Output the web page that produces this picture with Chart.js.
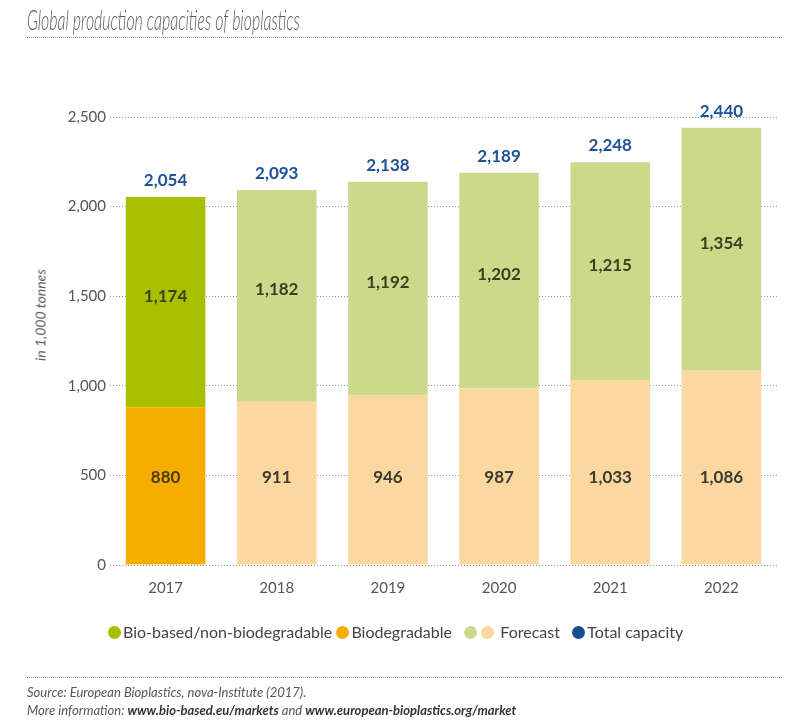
<!DOCTYPE html>
<html lang="en">
<head>
    <meta charset="UTF-8">
    <title>Global production capacities of bioplastics</title>
    <script src="https://cdn.jsdelivr.net/npm/chart.js@4.4.0/dist/chart.umd.min.js"></script>
    <style>
        body {
            margin: 0;
            background: #fff;
            font-family: "Lato", "Open Sans", sans-serif;
            color: #555;
        }
        .page {
            position: relative;
            width: 800px;
            height: 723px;
            overflow: hidden;
        }
        .chart-box {
            position: absolute;
            left: 0;
            top: 0;
            width: 800px;
            height: 723px;
        }
        .title {
            position: absolute;
            left: 27px;
            top: 2px;
            font-size: 28px;
            font-style: italic;
            font-weight: 300;
            color: #5a5a5a;
            white-space: nowrap;
            transform: scaleX(0.57);
            transform-origin: 0 0;
        }
        .rule {
            position: absolute;
            left: 27px;
            width: 755px;
            border-top: 1.5px dotted #888;
        }
        .ytitle {
            position: absolute;
            left: 32px;
            top: 315px;
            font-size: 14px;
            font-style: italic;
            color: #555;
            white-space: nowrap;
            transform: translate(-50%, -50%) rotate(-90deg);
            transform-origin: 50% 50%;
            margin-left: 8px;
        }
        .legend {
            position: absolute;
            left: 108px;
            top: 622px;
            font-size: 16px;
            color: #444;
            white-space: nowrap;
        }
        .legend span.dot {
            display: inline-block;
            width: 13px;
            height: 13px;
            border-radius: 50%;
            vertical-align: -1px;
            margin-right: 2px;
        }
        .source {
            position: absolute;
            left: 27px;
            top: 683px;
            font-size: 13px;
            font-style: italic;
            color: #555;
            line-height: 18px;
        }
        .source b {
            color: #333;
        }
    </style>
</head>
<body>
<div class="page">
    <div class="chart-box">
        <canvas id="myChart"></canvas>
    </div>
    <div class="title">Global production capacities of bioplastics</div>
    <div class="rule" style="top: 37px;"></div>
    <div class="ytitle">in 1,000 tonnes</div>
    <div class="legend">
        <span class="dot" style="background:#a8c000"></span>Bio-based/non-biodegradable
        <span class="dot" style="background:#f7ad00"></span>Biodegradable&nbsp;&nbsp;
        <span class="dot" style="background:#cdd98a"></span><span class="dot" style="background:#fbd89f; margin-left:2px"></span> Forecast&nbsp;&nbsp;
        <span class="dot" style="background:#1a4d8f"></span>Total capacity
    </div>
    <div class="rule" style="top: 677px;"></div>
    <div class="source">
        Source: European Bioplastics, nova-Institute (2017).<br>
        More information: <b>www.bio-based.eu/markets</b> and <b>www.european-bioplastics.org/market</b>
    </div>
</div>

<script>
    var years = ["2017", "2018", "2019", "2020", "2021", "2022"];
    var biodegradable = [880, 911, 946, 987, 1033, 1086];
    var bioBased = [1174, 1182, 1192, 1202, 1215, 1354];
    var totalCapacity = [2054, 2093, 2138, 2189, 2248, 2440];
    var yTicks = [0, 500, 1000, 1500, 2000, 2500];

    function fmt(v) {
        return Number(v).toLocaleString("en-US");
    }

    // value labels inside the bars and totals above them
    var valueLabels = {
        id: "valueLabels",
        afterDatasetsDraw: function(chart) {
            var ctx = chart.ctx;
            var yScale = chart.scales.y;
            ctx.save();
            ctx.textAlign = "center";
            ctx.textBaseline = "middle";
            ctx.font = "bold 17px Lato, 'Open Sans', sans-serif";

            var low = chart.getDatasetMeta(0);
            low.data.forEach(function(bar, i) {
                ctx.fillStyle = i === 0 ? "#4d3a0a" : "#3a3a32";
                ctx.fillText(fmt(biodegradable[i]), bar.x, yScale.getPixelForValue(490));
            });

            var high = chart.getDatasetMeta(1);
            high.data.forEach(function(bar, i) {
                ctx.fillStyle = "#3a4020";
                ctx.fillText(fmt(bioBased[i]), bar.x, (bar.y + bar.base) / 2 - 6);
            });

            ctx.fillStyle = "#1d5296";
            ctx.textBaseline = "bottom";
            high.data.forEach(function(bar, i) {
                ctx.fillText(fmt(totalCapacity[i]), bar.x, yScale.getPixelForValue(totalCapacity[i]) - 8);
            });
            ctx.restore();
        }
    };

    var ctx = document.getElementById("myChart").getContext("2d");
    var myChart = new Chart(ctx, {
        type: "bar",
        data: {
            labels: years,
            datasets: [
                {
                    label: "Biodegradable",
                    data: biodegradable,
                    backgroundColor: ["#f7ad00", "#fbd89f", "#fbd89f", "#fbd89f", "#fbd89f", "#fbd89f"],
                    categoryPercentage: 1.0,
                    barPercentage: 0.716
                },
                {
                    label: "Bio-based/non-biodegradable",
                    data: bioBased,
                    backgroundColor: ["#a8c000", "#cdd98a", "#cdd98a", "#cdd98a", "#cdd98a", "#cdd98a"],
                    categoryPercentage: 1.0,
                    barPercentage: 0.716
                }
            ]
        },
        options: {
            responsive: true,
            maintainAspectRatio: false,
            animation: false,
            layout: {
                padding: {top: 117, left: 0, right: 23, bottom: 128}
            },
            plugins: {
                legend: {display: false},
                title: {display: false},
                tooltip: {enabled: false}
            },
            scales: {
                x: {
                    stacked: true,
                    grid: {display: false},
                    border: {display: false},
                    ticks: {
                        color: "#555",
                        font: {family: "Lato", size: 15},
                        padding: 6
                    },
                    afterFit: function(scale) {
                        scale.height = 30;
                    }
                },
                y: {
                    stacked: true,
                    min: 0,
                    max: 2500,
                    afterBuildTicks: function(scale) {
                        scale.ticks = yTicks.map(function(v) { return {value: v}; });
                    },
                    border: {display: false, dash: [1, 2]},
                    grid: {
                        color: "#999",
                        lineWidth: 1,
                        drawTicks: false
                    },
                    ticks: {
                        color: "#555",
                        font: {family: "Lato", size: 15},
                        padding: 4,
                        callback: function(v) { return fmt(v); }
                    },
                    afterFit: function(scale) {
                        scale.width = 110;
                    }
                }
            }
        },
        plugins: [valueLabels]
    });
</script>
</body>
</html>
